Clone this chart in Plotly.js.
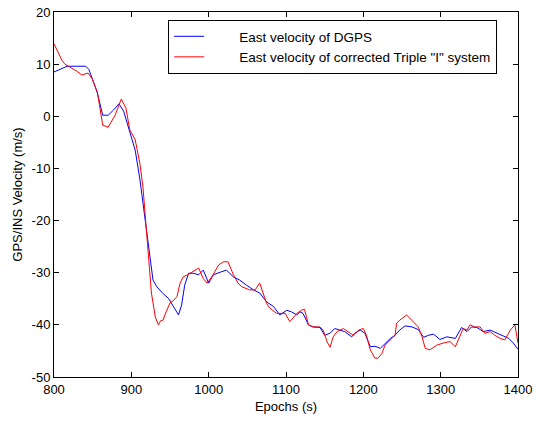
<!DOCTYPE html>
<html>
<head>
<meta charset="utf-8">
<script src="https://cdn.plot.ly/plotly-3.0.1.min.js"></script>
<style>html,body{margin:0;padding:0;background:#fff;}#chart{width:536px;height:424px;}</style>
</head>
<body>
<div id="chart"></div>
<script>
const dgpsEpochs = [800,817,841,845,850,856,863,870,877,884,890,898,905,911,914,920,924,928,933,941,948,954,961,965,969,974,980,987,993,1000,1006,1015,1023,1032,1040,1049,1058,1066,1075,1084,1092,1101,1107,1114,1118,1122,1129,1135,1144,1150,1157,1163,1170,1176,1185,1189,1196,1202,1209,1215,1222,1228,1235,1241,1247,1254,1263,1271,1278,1284,1291,1299,1308,1319,1327,1334,1340,1347,1355,1364,1373,1381,1388,1394,1400];
const dgpsVel = [8.5,9.6,9.6,9.0,7.0,4.5,0.2,0.2,1.2,2.4,1.0,-3.2,-6.5,-12,-15.5,-23.1,-27.6,-31.4,-32.7,-34,-34.9,-36.5,-38.1,-36.2,-32.4,-30.1,-30.1,-30.4,-29.5,-32,-30.4,-29.9,-29.5,-30.8,-31.4,-32.4,-33.3,-33.9,-35.6,-36.5,-38.1,-37.2,-37.5,-38.1,-37.5,-37.8,-40.0,-40.4,-40.5,-42,-41.6,-40.7,-41,-41.3,-42.3,-41.6,-41,-41.6,-44.2,-44.1,-44.5,-43.7,-42.6,-42,-41,-40.2,-40.4,-40.9,-42.4,-42,-41.8,-42.8,-42.3,-42.6,-40.5,-41.3,-40.4,-40.5,-41.3,-41,-41.6,-42,-42.6,-43.5,-44.7];

const insEpochs = [800,806,810,814,823,830,836,844,849,856,863,870,879,887,893,898,905,911,915,920,922,926,931,935,938,941,945,950,954,959,963,967,973,982,987,993,998,1004,1013,1019,1025,1032,1038,1043,1053,1060,1066,1075,1079,1088,1099,1105,1114,1120,1124,1129,1135,1144,1148,1153,1157,1161,1166,1174,1183,1187,1194,1200,1204,1209,1215,1219,1224,1228,1237,1241,1243,1247,1256,1265,1271,1276,1280,1286,1295,1303,1312,1319,1325,1329,1334,1338,1344,1351,1357,1364,1370,1377,1383,1390,1396,1400];
const insVel = [13.9,12,10.8,10,9.3,8.6,7.9,8.3,7.3,4.7,-1.7,-2.1,0.2,3.3,1.6,-2.6,-4.5,-9,-13.5,-22.4,-27.6,-33.9,-38.5,-40,-39.2,-39.1,-37.5,-35.8,-35.4,-34.6,-32,-30.8,-30.4,-29.5,-29.1,-31.1,-32,-30.8,-28.5,-27.9,-27.9,-30.4,-32,-32.7,-33.3,-33.3,-32,-35.9,-36.8,-37.8,-37.8,-39.4,-37.8,-37.2,-37.0,-40.0,-40.4,-40.4,-41,-43.2,-44.3,-42.3,-41.3,-40.7,-41.6,-42,-41,-40.7,-42,-44.8,-46.4,-46.4,-45.5,-43.9,-42.6,-42,-39.7,-39.1,-38.1,-39.4,-40.4,-42.3,-44.5,-44.8,-43.9,-43.5,-43.2,-44.2,-42,-40.7,-41,-40,-40.4,-40.4,-41.6,-41.3,-42,-42.6,-42.9,-41,-40,-43.5];

const seriesNames = ['East velocity of DGPS', 'East velocity of corrected Triple "I" system'];
const xTicks = [800,900,1000,1100,1200,1300,1400];
const yTicks = [-50,-40,-30,-20,-10,0,10,20];

const FONT = 'Liberation Sans, Arial, sans-serif';
const pad = '\u00A0\u00A0\u00A0\u00A0\u00A0\u00A0\u00A0\u00A0';
const traces = [
  {x: dgpsEpochs, y: dgpsVel, type: 'scatter', mode: 'lines', name: pad + seriesNames[0], line: {color: '#0000ff', width: 1}},
  {x: insEpochs, y: insVel, type: 'scatter', mode: 'lines', name: pad + seriesNames[1], line: {color: '#ff0000', width: 1}}
];

const axisCommon = {
  showgrid: false, zeroline: false, showline: true, linecolor: '#000', linewidth: 1,
  mirror: 'allticks', ticks: 'inside', ticklen: 5, tickcolor: '#000',
  tickfont: {family: FONT, size: 13, color: '#000'}
};

const layout = {
  width: 536, height: 424,
  margin: {l: 54, r: 18, t: 12, b: 47},
  paper_bgcolor: '#fff', plot_bgcolor: '#fff',
  font: {family: FONT, size: 13, color: '#000'},
  showlegend: true,
  legend: {
    x: 0.246, y: 0.978, xanchor: 'left', yanchor: 'top',
    bgcolor: '#fff', bordercolor: '#000', borderwidth: 1,
    font: {family: FONT, size: 13.5, color: '#000'},
    tracegroupgap: 0
  },
  xaxis: Object.assign({}, axisCommon, {
    range: [800, 1400], tickvals: xTicks, ticktext: xTicks.map(String),
    title: {text: 'Epochs (s)', font: {family: FONT, size: 13, color: '#000'}, standoff: 6}
  }),
  yaxis: Object.assign({}, axisCommon, {
    range: [-50, 20], tickvals: yTicks, ticktext: yTicks.map(String),
    title: {text: 'GPS/INS Velocity (m/s)', font: {family: FONT, size: 13, color: '#000'}, standoff: 6}
  })
};

Plotly.newPlot('chart', traces, layout, {displayModeBar: false, staticPlot: true});
</script>
</body>
</html>
